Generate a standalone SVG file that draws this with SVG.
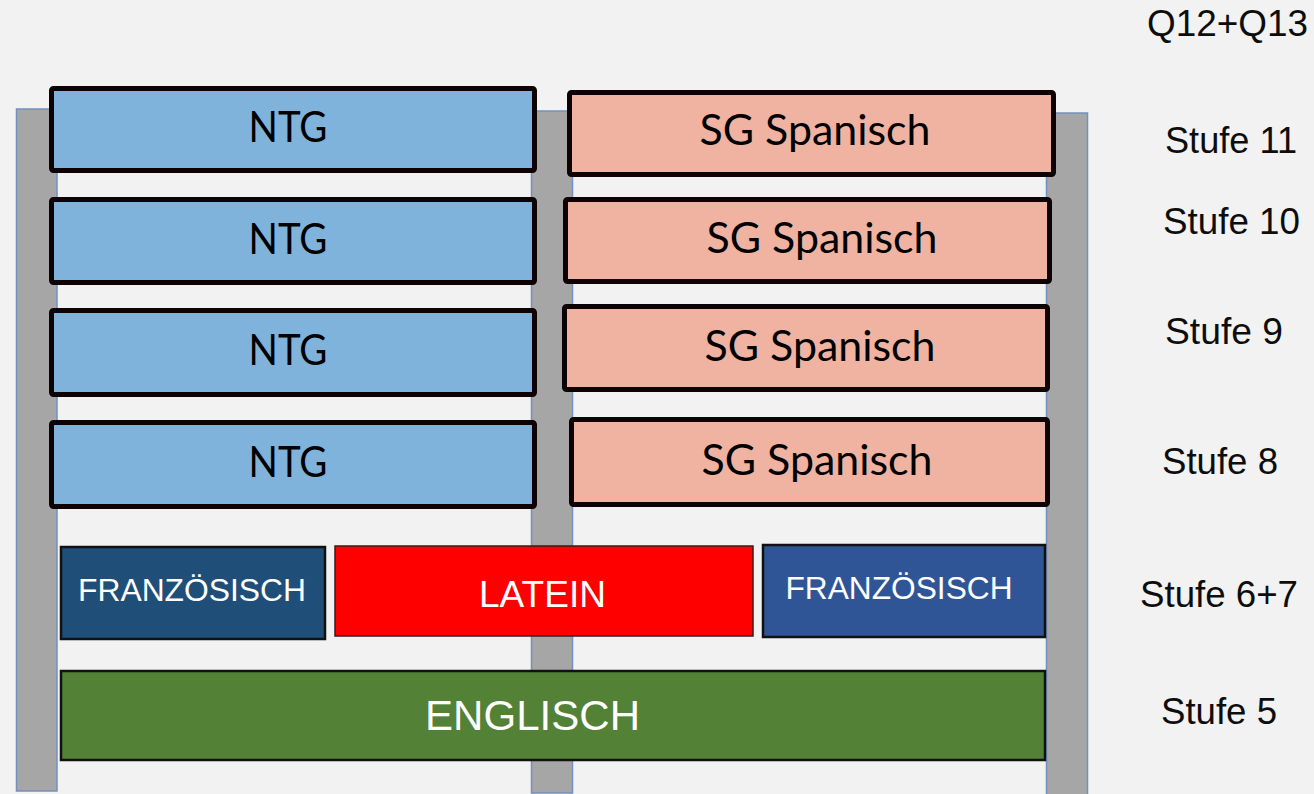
<svg xmlns="http://www.w3.org/2000/svg" width="1314" height="794" viewBox="0 0 1314 794">
<style>
.pillar{fill:#a6a6a6;stroke:#7391bf;stroke-width:1.5}
.ntg{fill:#7fb3dc;stroke:#0d0305;stroke-width:5}
.sg{fill:#f0b3a1;stroke:#0d0305;stroke-width:5}
.big{font-family:Lato,"Noto Sans",sans-serif;font-size:42px;fill:#000;text-anchor:middle}
.cap{font-family:"Liberation Sans",Arial,sans-serif;fill:#fff;text-anchor:middle}
.lbl{font-family:"Liberation Sans",Arial,sans-serif;font-size:36px;fill:#0d0d0d}
.thin{stroke:#111;stroke-width:2.5}
</style>
<rect width="1314" height="794" fill="#f2f2f2"/>
<g id="pillars">
<rect class="pillar" x="16.5" y="109" width="40.5" height="682"/>
<rect class="pillar" x="531.5" y="111" width="41" height="682"/>
<rect class="pillar" x="1046.5" y="113" width="41" height="684"/>
</g>
<g id="ntg11"><rect class="ntg" x="51.5" y="88.5" width="483" height="82" rx="2"/><text class="big" x="288" y="142" textLength="79" lengthAdjust="spacingAndGlyphs">NTG</text></g>
<g id="ntg10"><rect class="ntg" x="51.5" y="199.5" width="483" height="83" rx="2"/><text class="big" x="288" y="254" textLength="79" lengthAdjust="spacingAndGlyphs">NTG</text></g>
<g id="ntg9"><rect class="ntg" x="51.5" y="310.5" width="483" height="84" rx="2"/><text class="big" x="288" y="365" textLength="79" lengthAdjust="spacingAndGlyphs">NTG</text></g>
<g id="ntg8"><rect class="ntg" x="51.5" y="422.5" width="483" height="84" rx="2"/><text class="big" x="288" y="477" textLength="79" lengthAdjust="spacingAndGlyphs">NTG</text></g>
<g id="sg11"><rect class="sg" x="569.5" y="92.5" width="484" height="82" rx="2"/><text class="big" x="815" y="145" textLength="231" lengthAdjust="spacingAndGlyphs">SG Spanisch</text></g>
<g id="sg10"><rect class="sg" x="565.5" y="199.5" width="484" height="82" rx="2"/><text class="big" x="822" y="253" textLength="231" lengthAdjust="spacingAndGlyphs">SG Spanisch</text></g>
<g id="sg9"><rect class="sg" x="564.5" y="306.5" width="483" height="83" rx="2"/><text class="big" x="820" y="361" textLength="231" lengthAdjust="spacingAndGlyphs">SG Spanisch</text></g>
<g id="sg8"><rect class="sg" x="571.5" y="419.5" width="476" height="85" rx="2"/><text class="big" x="817" y="475" textLength="231" lengthAdjust="spacingAndGlyphs">SG Spanisch</text></g>
<g id="franz-left"><rect class="thin" x="61" y="547" width="264" height="92" fill="#1f4e79"/><text class="cap" x="192" y="601" font-size="32" textLength="228" lengthAdjust="spacingAndGlyphs">FRANZÖSISCH</text></g>
<g id="latein"><rect x="335" y="546" width="418" height="90" fill="#ff0000" stroke="#3a1a1a" stroke-width="1.5"/><text class="cap" x="542.5" y="607" font-size="36" textLength="127" lengthAdjust="spacingAndGlyphs">LATEIN</text></g>
<g id="franz-right"><rect class="thin" x="763" y="545" width="282" height="92" fill="#2f5597"/><text class="cap" x="899" y="599" font-size="32" textLength="227" lengthAdjust="spacingAndGlyphs">FRANZÖSISCH</text></g>
<g id="englisch"><rect class="thin" x="61" y="671" width="984" height="89" fill="#538135"/><text class="cap" x="532.5" y="730" font-size="42" textLength="215" lengthAdjust="spacingAndGlyphs">ENGLISCH</text></g>
<g id="labels">
<text class="lbl" x="1147" y="36" textLength="161" lengthAdjust="spacingAndGlyphs">Q12+Q13</text>
<text class="lbl" x="1165" y="153" textLength="132" lengthAdjust="spacingAndGlyphs">Stufe 11</text>
<text class="lbl" x="1163" y="234" textLength="137" lengthAdjust="spacingAndGlyphs">Stufe 10</text>
<text class="lbl" x="1165" y="344" textLength="118" lengthAdjust="spacingAndGlyphs">Stufe 9</text>
<text class="lbl" x="1162" y="474" textLength="116" lengthAdjust="spacingAndGlyphs">Stufe 8</text>
<text class="lbl" x="1140" y="607" textLength="158" lengthAdjust="spacingAndGlyphs">Stufe 6+7</text>
<text class="lbl" x="1161" y="724" textLength="116" lengthAdjust="spacingAndGlyphs">Stufe 5</text>
</g>
</svg>
